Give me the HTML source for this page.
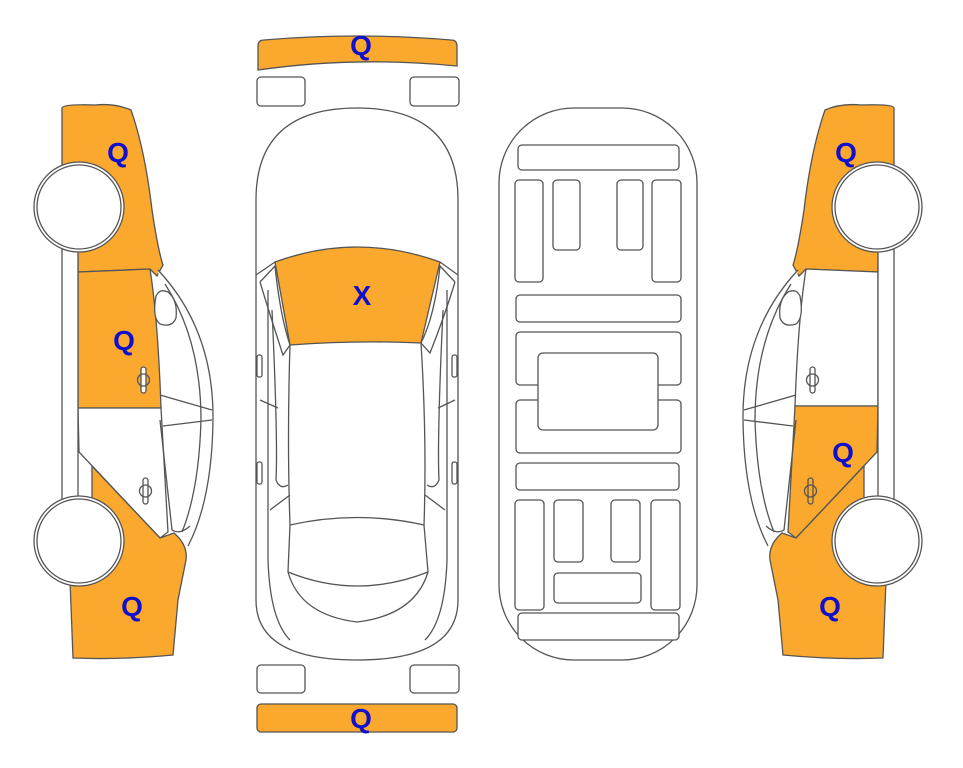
<!DOCTYPE html>
<html><head><meta charset="utf-8"><style>
html,body{margin:0;padding:0;background:#fff;width:963px;height:768px;overflow:hidden}
svg{display:block}
text{font-family:"Liberation Sans",sans-serif;font-weight:bold;font-size:28px;fill:#1010cc;text-anchor:middle}
</style></head><body>
<svg width="963" height="768" viewBox="0 0 963 768" xmlns="http://www.w3.org/2000/svg">
<defs>
<g id="side" stroke="#555" stroke-width="1.3" fill="none">
  <path d="M158,270 Q214,330 213,420 Q212,500 188,546" fill="#fff"/>
  <path d="M165,284 Q201,340 201,420 Q199,490 182,532"/>
  <path d="M160,395 L212,410 M163,426 L212,420"/>
  <path d="M62,250 L62,500 L78,500 L78,250" fill="#fff"/>
  <path d="M156,296 Q160,288 168,292 Q178,300 176,318 Q172,328 160,324 Q152,318 156,296Z" fill="#fff"/>
  <path d="M160,420 L172,530 Q180,535 190,526"/>
</g>
</defs>

<!-- LEFT CAR -->
<g stroke="#555" stroke-width="1.3">
  <path d="M62,108 Q63,104 95,105 Q115,103 131,110 Q145,150 152,210 Q158,250 163,265 L157,276 L150,269 L78,272 L78,252 L62,252 Z" fill="#faa82e"/>
  <path d="M78,272 L150,269 Q158,320 161,408 L78,408 Z" fill="#faa82e"/>
  <path d="M78,408 L161,408 L168,532 L160,538 L79,452 Z" fill="#fff"/>
  <path d="M92,466 L160,538 L174,533 Q188,545 186,560 L178,600 L173,655 Q120,660 73,658 L70,580 L92,560 Z" fill="#faa82e"/>
</g>
<use href="#side"/>
<g stroke="#555" stroke-width="1.3" fill="#fff">
  <circle cx="79" cy="207" r="45"/><circle cx="79" cy="207" r="42"/>
  <circle cx="79" cy="541" r="45"/><circle cx="79" cy="541" r="42"/>
  <rect x="141" y="367" width="5" height="26" rx="2.5"/><circle cx="143.5" cy="380" r="6" fill="none"/>
  <rect x="143" y="478" width="5" height="26" rx="2.5"/><circle cx="145.5" cy="491" r="6" fill="none"/>
</g>
<text x="118" y="162">Q</text><text x="124" y="350">Q</text><text x="132" y="616">Q</text>

<!-- RIGHT CAR (mirror) -->
<g transform="translate(956,0) scale(-1,1)">
<g stroke="#555" stroke-width="1.3">
  <path d="M62,108 Q63,104 95,105 Q115,103 131,110 Q145,150 152,210 Q158,250 163,265 L157,276 L150,269 L78,272 L78,252 L62,252 Z" fill="#faa82e"/>
  <path d="M78,272 L150,269 Q158,320 161,406 L78,406 Z" fill="#fff"/>
  <path d="M78,406 L161,406 L168,532 L160,538 L79,452 Z" fill="#faa82e"/>
  <path d="M92,466 L160,538 L174,533 Q188,545 186,560 L178,600 L173,655 Q120,660 73,658 L70,580 L92,560 Z" fill="#faa82e"/>
</g>
<use href="#side"/>
<g stroke="#555" stroke-width="1.3" fill="#fff">
  <circle cx="79" cy="207" r="45"/><circle cx="79" cy="207" r="42"/>
  <circle cx="79" cy="541" r="45"/><circle cx="79" cy="541" r="42"/>
  <rect x="141" y="367" width="5" height="26" rx="2.5"/><circle cx="143.5" cy="380" r="6" fill="none"/>
  <rect x="143" y="478" width="5" height="26" rx="2.5" fill="none"/><circle cx="145.5" cy="491" r="6" fill="none"/>
</g>
</g>
<text x="846" y="162">Q</text><text x="843" y="462">Q</text><text x="830" y="616">Q</text>

<!-- TOP VIEW CAR -->
<g stroke="#555" stroke-width="1.3" fill="none">
  <path d="M258,46 Q258,40 264,40 Q357,32 451,40 Q457,40 457,46 L457,66 Q357,56 258,70 Z" fill="#faa82e"/>
  <rect x="257" y="77" width="48" height="29" rx="4" fill="#fff"/>
  <rect x="410" y="77" width="49" height="29" rx="4" fill="#fff"/>
  <rect x="257" y="665" width="48" height="28" rx="4" fill="#fff"/>
  <rect x="410" y="665" width="49" height="28" rx="4" fill="#fff"/>
  <rect x="257" y="704" width="200" height="28" rx="4" fill="#faa82e"/>
  <path d="M256,200 Q256,108 357,108 Q458,108 458,200 L458,600 Q458,660 357,660 Q256,660 256,600 Z" fill="#fff"/>
  <path d="M275,262 Q357,232 440,262 L421,343 Q357,340 290,345 Z" fill="#faa82e"/>
  <path d="M256,275 L275,262 M458,275 L440,262"/>
  <path d="M260,282 L275,266 Q280,315 290,345 L283,355 Q270,315 260,282"/>
  <path d="M455,282 L440,266 Q435,315 421,343 L430,353 Q445,315 455,282"/>
  <path d="M290,345 Q287,440 290,525 M421,343 Q427,440 424,525"/>
  <path d="M268,290 L268,560 Q270,620 290,640 M447,290 L447,560 Q445,620 425,640"/>
  <path d="M272,310 Q278,440 276,480 Q280,490 288,485 M443,310 Q437,440 439,480 Q435,490 427,485"/>
  <path d="M270,510 L290,495 M445,510 L425,495"/>
  <path d="M290,525 Q357,510 424,525 L428,572 Q357,600 288,572 Z"/>
  <path d="M288,572 Q300,615 357,622 Q415,615 428,572"/>
  <path d="M260,400 L278,408 M455,400 L438,408"/>
  <rect x="257" y="355" width="5" height="22" rx="2"/>
  <rect x="452" y="355" width="5" height="22" rx="2"/>
  <rect x="257" y="462" width="5" height="22" rx="2"/>
  <rect x="452" y="462" width="5" height="22" rx="2"/>
</g>
<text x="361" y="55">Q</text>
<text x="362" y="305">X</text>
<text x="361" y="728">Q</text>

<!-- CHASSIS -->
<g stroke="#555" stroke-width="1.3" fill="#fff">
  <rect x="499" y="108" width="198" height="552" rx="75"/>
  <rect x="518" y="145" width="161" height="25" rx="4"/>
  <rect x="515" y="180" width="28" height="102" rx="4"/>
  <rect x="553" y="180" width="27" height="70" rx="4"/>
  <rect x="617" y="180" width="26" height="70" rx="4"/>
  <rect x="652" y="180" width="29" height="102" rx="4"/>
  <rect x="516" y="295" width="165" height="27" rx="4"/>
  <rect x="516" y="332" width="165" height="53" rx="4"/>
  <rect x="516" y="400" width="165" height="53" rx="4"/>
  <rect x="538" y="353" width="120" height="77" rx="5"/>
  <rect x="516" y="463" width="163" height="27" rx="4"/>
  <rect x="515" y="500" width="29" height="110" rx="4"/>
  <rect x="554" y="500" width="29" height="62" rx="4"/>
  <rect x="611" y="500" width="29" height="62" rx="4"/>
  <rect x="651" y="500" width="29" height="110" rx="4"/>
  <rect x="554" y="573" width="87" height="30" rx="4"/>
  <rect x="518" y="613" width="161" height="27" rx="4"/>
</g>
</svg>
</body></html>
